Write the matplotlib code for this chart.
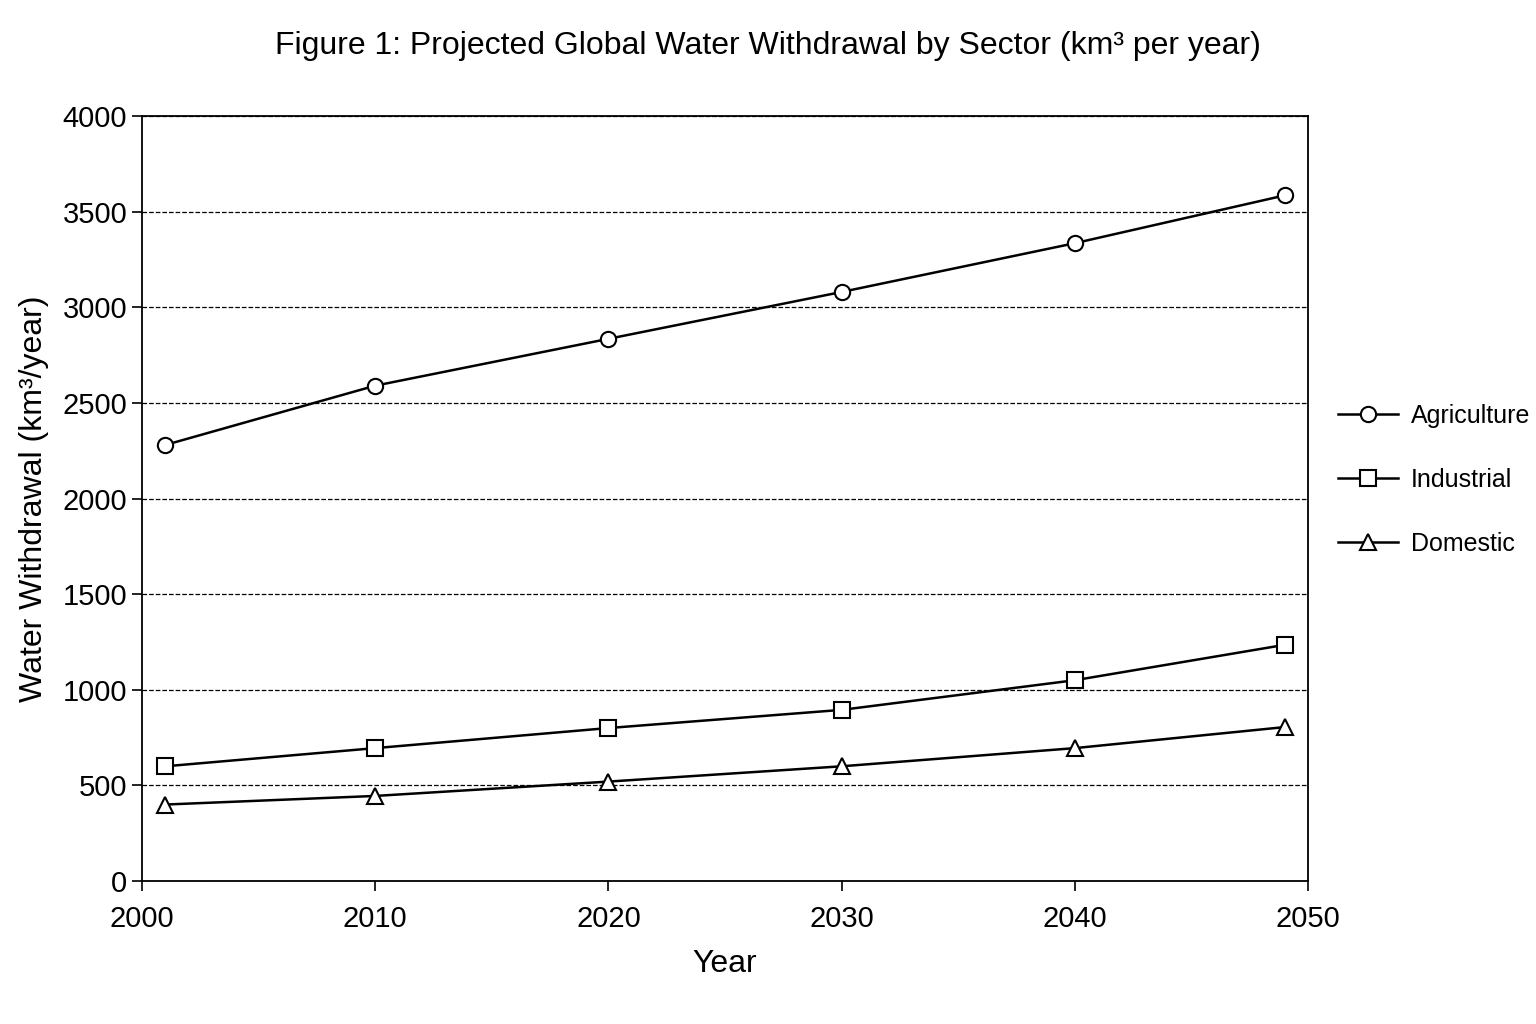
import matplotlib
matplotlib.use("Agg")
import matplotlib.pyplot as plt

years = [2001, 2010, 2020, 2030, 2040, 2049]
agriculture = [2280, 2590, 2835, 3080, 3335, 3585]
industrial = [600, 695, 800, 895, 1050, 1235]
domestic = [400, 445, 520, 600, 695, 805]

plt.rcParams['font.family'] = ['Liberation Sans', 'DejaVu Sans']

fig = plt.figure(figsize=(15.36, 10.24), dpi=100)
ax = fig.add_axes([0.0924, 0.1396, 0.7592, 0.7471])

kw = dict(color='black', lw=1.8, ms=11, mfc='white', mec='black', mew=1.5)
ax.plot(years, agriculture, marker='o', label='Agriculture', **kw)
ax.plot(years, industrial, marker='s', label='Industrial', **kw)
ax.plot(years, domestic, marker='^', label='Domestic', **kw)

ax.set_xlim(2000, 2050)
ax.set_ylim(0, 4000)
ax.set_xticks([2000, 2010, 2020, 2030, 2040, 2050])
ax.set_yticks(range(0, 4001, 500))
ax.yaxis.grid(True, linestyle='--', color='black', lw=0.9)
ax.set_axisbelow(True)
ax.tick_params(labelsize=21, length=7, width=1.2, direction='out')
ax.tick_params(axis='x', pad=10)
for s in ax.spines.values():
    s.set_linewidth(1.3)
ax.set_xlabel('Year', fontsize=23, labelpad=12)
ax.set_ylabel('Water Withdrawal (km³/year)', fontsize=23, labelpad=10)
fig.suptitle('Figure 1: Projected Global Water Withdrawal by Sector (km³ per year)',
             fontsize=23, y=0.97)
ax.legend(loc='center left', bbox_to_anchor=(1.0, 0.524), frameon=False,
          fontsize=18, labelspacing=1.6, handlelength=2.4, handletextpad=0.5,
          borderaxespad=0.8)

fig.savefig('out.png', dpi=100)
